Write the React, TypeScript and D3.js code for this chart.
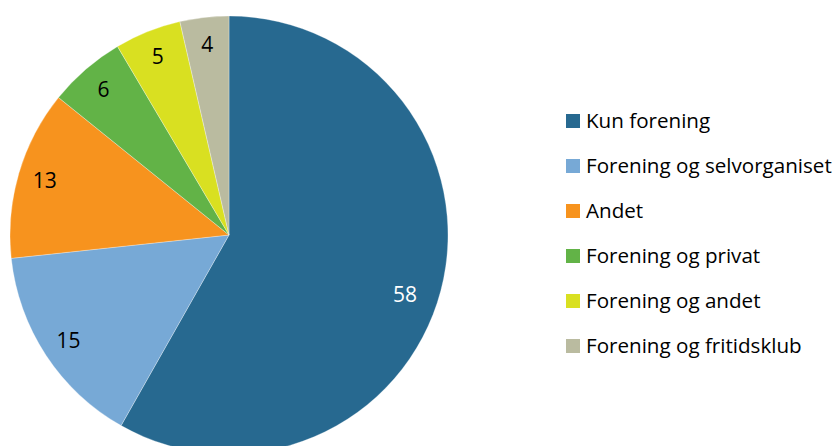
import React from "react";
import * as d3 from "d3";

const categories = [
  "Kun forening",
  "Forening og selvorganiset",
  "Andet",
  "Forening og privat",
  "Forening og andet",
  "Forening og fritidsklub",
];
const values = [58.2, 15.1, 12.5, 5.7, 4.9, 3.6];
const colors = ["#276990", "#77A9D6", "#F7931E", "#62B347", "#D9E021", "#BABBA0"];
const labelColors = ["#ffffff", "#000000", "#000000", "#000000", "#000000", "#000000"];

const W = 838;
const H = 446;
const cx = 229;
const cy = 235;
const R = 219;
const FONT = "'Open Sans', sans-serif";

export default function App() {
  const data = categories.map((c, i) => ({ c, v: values[i], i }));
  const pie = d3.pie<any>().value((d) => d.v).sort(null);
  const arcs = pie(data);
  const arc = d3.arc<any>().innerRadius(0).outerRadius(R);
  const labelArc = d3.arc<any>().innerRadius(192).outerRadius(192);
  const bigLabelArc = d3.arc<any>().innerRadius(186).outerRadius(186);
  const legendY = d3.scalePoint<string>().domain(categories).range([128, 353]);

  return (
    <svg width={W} height={H} style={{ position: "absolute", left: 0, top: 0 }}>
      <g transform={`translate(${cx},${cy})`}>
        {arcs.map((a, i) => (
          <path key={i} d={arc(a) || ""} fill={colors[i]} stroke="#ffffff" strokeWidth={0.5} strokeOpacity={0.6} />
        ))}
        {arcs.map((a, i) => {
          const big = a.endAngle - a.startAngle > Math.PI;
          const mid = (a.startAngle + a.endAngle) / 2 + (big ? 0.07 : 0);
          const la = big ? bigLabelArc : labelArc;
          const [x, y] = la.centroid({ startAngle: mid, endAngle: mid });
          return (
            <text
              key={"l" + i}
              x={x}
              y={y}
              dy="0.36em"
              textAnchor="middle"
              fontFamily={FONT}
              fontSize={21}
              fill={labelColors[i]}
            >
              {Math.round(values[i])}
            </text>
          );
        })}
      </g>
      {categories.map((c, i) => (
        <g key={"lg" + i} transform={`translate(566,${legendY(c)})`}>
          <rect x={0} y={-14} width={14} height={14} fill={colors[i]} />
          <text x={20} y={0} fontFamily={FONT} fontSize={20.6} fill="#000">
            {c}
          </text>
        </g>
      ))}
    </svg>
  );
}
